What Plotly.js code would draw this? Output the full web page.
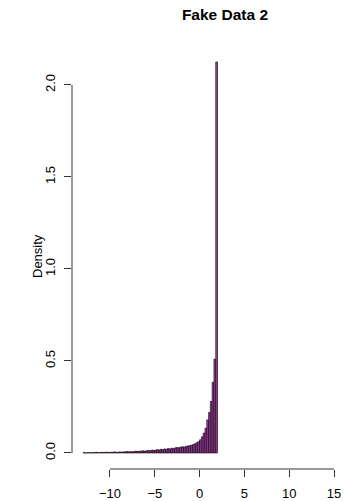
<!DOCTYPE html>
<html>
<head>
<meta charset="utf-8">
<script src="https://cdn.plot.ly/plotly-3.0.1.min.js"></script>
<style>
  html, body { margin: 0; padding: 0; background: #ffffff; }
  #chart { width: 344px; height: 501px; }
</style>
</head>
<body>
<div id="chart"></div>
<script>
// Histogram of "Fake Data 2": bins of width 0.2 starting at -13, density scale
const binStart = -13.0;
const binWidth = 0.2;
const density = [
  // -13.0 .. -6.2
  0.002, 0.000, 0.002, 0.002, 0.000, 0.002, 0.002, 0.004, 0.002, 0.002,
  0.004, 0.002, 0.004, 0.004, 0.002, 0.004, 0.004, 0.006, 0.004, 0.004,
  0.006, 0.004, 0.006, 0.006, 0.008, 0.006, 0.008, 0.006, 0.008, 0.010,
  0.008, 0.010, 0.010, 0.012, 0.010,
  // -6.0 .. -1.2
  0.012, 0.014, 0.012, 0.016, 0.014, 0.016, 0.018, 0.016, 0.020, 0.018,
  0.022, 0.020, 0.024, 0.022, 0.026, 0.024, 0.028, 0.030, 0.028, 0.032,
  0.034, 0.032, 0.036, 0.038, 0.040,
  // -1.0 .. 1.8
  0.042, 0.046, 0.050, 0.056, 0.062, 0.072, 0.088, 0.108, 0.135, 0.180,
  0.220, 0.280, 0.385, 0.510, 2.125
];
const xTicks = [-10, -5, 0, 5, 10, 15];
const xTickText = ['\u221210', '\u22125', '0', '5', '10', '15'];
const yTicks = [0, 0.5, 1.0, 1.5, 2.0];
const yTickText = ['0.0', '0.5', '1.0', '1.5', '2.0'];

const centers = density.map((_, i) => binStart + binWidth * (i + 0.5));

const font = 'Liberation Sans, Arial, Helvetica, sans-serif';
const ink = '#000000';
const axisInk = '#333333';

const trace = {
  type: 'bar',
  x: centers,
  y: density,
  width: binWidth,
  marker: { color: '#a23ca2', line: { color: '#000000', width: 0.6 } },
  hoverinfo: 'x+y'
};

const layout = {
  width: 344,
  height: 501,
  margin: { l: 72, r: 4, t: 43, b: 32, pad: 0 },
  paper_bgcolor: '#ffffff',
  plot_bgcolor: '#ffffff',
  showlegend: false,
  bargap: 0,
  font: { family: font, size: 13, color: ink },
  title: {
    text: '<b>Fake Data 2</b>',
    font: { family: font, size: 15.5, color: ink },
    xref: 'container', x: 225 / 344, xanchor: 'center',
    yref: 'container', y: 1 - 15 / 501, yanchor: 'middle'
  },
  xaxis: {
    range: [-14.24, 15.67],
    tickvals: xTicks,
    ticktext: xTickText,
    ticks: 'outside', ticklen: 7, tickwidth: 1, tickcolor: axisInk,
    showgrid: false, zeroline: false, showline: false,
    ticklabelstandoff: 5,
    tickfont: { family: font, size: 13, color: ink },
    fixedrange: true
  },
  yaxis: {
    range: [-0.087, 2.228],
    tickvals: yTicks,
    ticktext: yTickText,
    tickangle: -90,
    ticks: 'outside', ticklen: 7, tickwidth: 1, tickcolor: axisInk,
    showgrid: false, zeroline: false, showline: false,
    ticklabelstandoff: 4,
    tickfont: { family: font, size: 13, color: ink },
    fixedrange: true
  },
  annotations: [
    { text: 'Density', textangle: -90, showarrow: false,
      xref: 'paper', x: (37 - 72) / 268, xanchor: 'center',
      yref: 'paper', y: 0.5, yanchor: 'middle',
      font: { family: font, size: 13, color: ink } }
  ],
  shapes: [
    { type: 'line', xref: 'x', yref: 'paper', x0: xTicks[0], x1: xTicks[xTicks.length - 1], y0: 0, y1: 0,
      line: { color: axisInk, width: 1 } },
    { type: 'line', xref: 'paper', yref: 'y', x0: 0, x1: 0, y0: yTicks[0], y1: yTicks[yTicks.length - 1],
      line: { color: axisInk, width: 1 } }
  ]
};

Plotly.newPlot('chart', [trace], layout, { displayModeBar: false, staticPlot: true });
</script>
</body>
</html>
